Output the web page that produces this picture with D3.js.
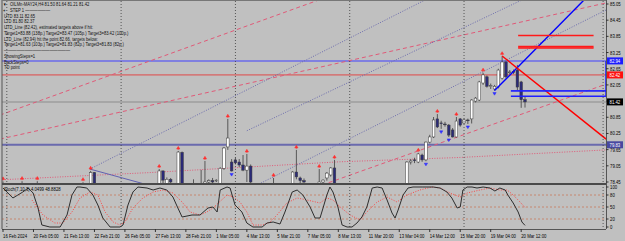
<!DOCTYPE html>
<html><head><meta charset="utf-8">
<script src="https://cdn.jsdelivr.net/npm/d3@7/dist/d3.min.js"></script>
<style>
html,body{margin:0;padding:0;background:#c0c0c0;}
svg{display:block;font-family:"Liberation Sans",Arial,sans-serif;}
</style></head><body>
<svg id="chart" width="625" height="241"></svg>
<script>
// ---- data (bar index on x, price on y) ----
const timeLabels = ["16 Feb 2024","20 Feb 05:00","21 Feb 13:00","22 Feb 21:00","26 Feb 05:00","27 Feb 13:00",
  "28 Feb 21:00","1 Mar 05:00","4 Mar 13:00","5 Mar 21:00","7 Mar 05:00","8 Mar 13:00","11 Mar 20:00",
  "13 Mar 04:00","14 Mar 12:00","15 Mar 20:00","19 Mar 04:00","20 Mar 12:00"];
const priceTicks = [85.05, 84.45, 83.85, 83.25, 82.65, 82.05, 81.45, 80.85, 80.25, 79.65, 79.05, 78.45];
const stochTicks = [100, 80, 50, 20, 0];
const gridBars = [1, 31, 61, 91, 121, 157.5];

// [bar, open, high, low, close]
const candles = [
  [0,78.30,78.47,78.10,78.20],[5,78.30,78.48,78.10,78.25],[9,78.30,78.48,78.10,78.25],[21,78.20,78.44,78.00,78.30],
  [23,78.30,78.86,78.20,78.80],[24,78.80,78.82,78.20,78.30],[41,78.30,78.93,78.20,78.86],[42,78.86,78.88,78.40,78.52],
  [43,78.40,78.62,78.30,78.55],[44,78.55,78.60,78.35,78.45],[46,78.30,79.60,78.20,79.56],[47,79.55,79.58,78.20,78.30],
  [50,78.30,78.55,78.20,78.40],[52,78.30,78.90,78.20,78.40],[53,78.40,79.23,78.30,78.45],[54,78.45,78.55,78.30,78.50],
  [55,78.50,78.60,78.35,78.45],[56,78.52,78.55,78.45,78.52],[57,78.30,79.00,78.20,78.96],[58,78.96,79.75,78.90,79.71],
  [59,79.75,80.79,79.64,80.08],[60,79.19,79.30,78.84,78.86],[61,79.27,79.35,79.10,79.16],[62,79.19,79.30,79.00,79.08],
  [63,79.08,79.45,78.85,78.89],[64,78.89,79.49,78.45,79.04],[65,79.04,79.10,78.30,78.45],[71,78.30,78.60,78.20,78.40],
  [76,78.30,78.85,78.20,78.82],[77,78.82,79.64,78.55,78.64],[78,78.60,78.65,78.40,78.50],[79,78.50,78.58,78.35,78.45],
  [83,78.40,78.93,78.30,78.45],[84,78.45,78.55,78.40,78.52],[85,78.60,78.82,78.50,78.78],[86,78.71,79.00,78.65,78.97],
  [87,78.97,79.27,78.20,78.30],
  [106,78.40,79.22,78.30,79.19],[107,79.19,79.30,79.10,79.23],[108,79.27,79.35,79.15,79.25],[109,79.19,79.53,79.15,79.49],
  [110,79.45,79.50,79.20,79.27],[111,79.27,79.95,79.22,79.93],[112,79.93,80.20,79.88,80.12],[113,80.12,80.86,80.08,80.75],
  [114,80.79,80.97,80.45,80.49],[115,80.64,80.72,80.42,80.62],[116,80.60,80.68,80.50,80.58],[117,80.56,80.60,80.12,80.19],
  [118,80.38,80.45,80.10,80.12],[119,80.12,80.86,80.10,80.71],[120,80.79,80.82,80.50,80.56],[121,80.64,80.80,80.60,80.75],
  [122,80.75,80.80,80.60,80.73],[123,80.79,81.52,80.62,81.49],[124,81.45,81.60,81.40,81.56],[125,81.49,82.20,81.45,82.16],
  [126,82.12,82.50,82.05,82.42],[127,82.35,82.40,81.95,82.00],[128,82.00,82.10,81.90,82.02],[129,81.90,82.05,81.84,82.00],
  [130,81.97,82.65,81.92,82.60],[131,82.30,83.11,82.25,82.90],[132,82.90,82.95,82.30,82.35],[133,82.50,82.60,82.45,82.53],
  [134,82.55,82.62,82.45,82.53],[135,82.60,82.79,81.86,81.97],[136,82.16,82.20,81.20,81.50],[137,81.50,81.64,81.21,81.42]
];
const upFractals = [0,5,9,21,23,41,46,53,59,64,71,77,83,87,109,114,119,126,131];
const downFractals = [60,111,115,117,122,129];

// stochastic main / signal: [bar, value]
const stochK = [[0,97.5],[1.3,85],[2.6,72.5],[3.9,80],[5.2,87.5],[6.6,97.5],[7.9,85],[9.2,47.5],[10.2,5],[12.3,0],[15,0],
  [16.8,30],[18.1,80],[19.4,100],[20.2,100],[22,97.5],[23.6,80],[24.9,55],[26.2,22.5],[28.1,0],[30.7,0],[31.5,5],[32.8,55],
  [34.1,87.5],[35.4,100],[37.8,97.5],[39.4,92.5],[41.2,97.5],[43,92.5],[44.6,75],[45.9,47.5],[47,25],[49.6,30],[51.7,30],
  [53.8,47.5],[55.1,50],[56.2,37.5],[57,92.5],[58.8,100],[59.6,97.5],[60.9,55],[62.7,37.5],[64,10],[65.6,0],[68,0],
  [69.3,10],[70.9,12.5],[72.7,7.5],[74,37.5],[75.9,87.5],[77.2,92.5],[78.7,80],[80.6,50],[81.9,22.5],[83.2,22.5],
  [84,47.5],[85,80],[85.8,100],[86.6,87.5],[87.9,50],[89,5],[90.3,0],[91.6,0],[92.9,10],[94.2,25],[95.5,50],[96.9,97.5],
  [98.2,100],[99.5,97.5],[100.8,67.5],[102.1,35],[102.9,22.5],[103.7,42.5],[105,80],[106.3,97.5],[107.6,100],[110.2,100],
  [112.9,100],[114.7,97.5],[116.5,87.5],[117.8,72.5],[119.2,47.5],[120,50],[120.7,92.5],[121.8,100],[123.1,100],
  [124.4,97.5],[126,100],[127.8,97.5],[129.1,90],[130.4,97.5],[131.8,92.5],[132.5,80],[133.9,60],[135.2,37.5],
  [136.2,12.5],[137,4.05]];
const stochD = [[7.6,67.5],[10.5,30],[13.6,10],[15.7,10],[18.1,37.5],[20.2,72.5],[22.8,87.5],[24.9,80],[26.8,37.5],
  [28.9,12.5],[30.7,5],[32,12.5],[34.1,47.5],[36.7,72.5],[39.4,87.5],[42,92.5],[44.6,85],[47,62.5],[49.1,37.5],[51.7,30],
  [53.5,37.5],[55.1,47.5],[58.8,80],[60.4,75],[62.2,62.5],[64,37.5],[65.6,5],[68.2,5],[70.1,12.5],[71.9,30],[74.5,60],
  [77.2,72.5],[79.8,67.5],[83.2,60],[85,72.5],[86.6,67.5],[88.5,50],[91.1,30],[93.7,17.5],[95.5,37.5],[98.2,62.5],
  [100.8,75],[103.4,62.5],[106,80],[109.4,92.5],[112.6,100],[114.7,97.5],[117.3,85],[120,75],[121.8,85],[125.2,92.5],
  [127.8,97.5],[130.4,92.5],[132.3,92.5],[133.9,80],[135.7,62.5],[137,48.88]];

// lines: [[bar, price],[bar, price]]
const pinkDashed = [[[-0.8,80.93],[82.9,85.2]], [[-0.8,80.04],[158.3,85.09]], [[82,78.25],[158.3,82.08]]];
const maLine = [[-0.8,78.53],[38.6,78.80],[88.5,79.20],[120,79.36],[158.3,79.64]];
const purpleDotted = [[[22.8,78.93],[110.8,85.2]], [[67.7,78.41],[158.3,84.83]], [[64,80.35],[136.2,85.2]]];
const slateDown = [[22.8,78.93],[37,78.38]];
const blueTrend = [[129,81.84],[152.5,85.2]];
const redTrend = [[131,83.12],[158.3,80.04]];
const redTargets = [83.88, 83.47, 83.42];
const blueTargets = [81.83, 81.83, 81.63];
const levels = [
  {p: 82.94, color: "#8080e0", w: 2, box: "#1c1cff"},
  {p: 82.42, color: "#e04848", w: 1, box: "#ff1010"},
  {p: 81.42, color: "#a6a6a6", w: 2, box: "#000000"},
  {p: 79.83, color: "#6a6aae", w: 2, box: "#4848a0"}
];
const infoLines = ["OILMn-MAY24,H4  81.50 81.64 81.21 81.42", "STEP 1  ——————", "UTD 83.11  82.65", "LTD  81.80  82.37",
  "UTD_Line (82.42), estimated targets above if hit:",
  "Target1=83.88 (138p.) Target2=83.47 (105p.) Target3=83.42 (100p.)",
  "LTD_Line (82.94) hit the point 82.66, targets below:",
  "Target1=81.63 (103p.) Target2=81.83 (82p.) Target3=81.83 (82p.)",
  "————————————————", "ShowingSteps=1", "BackSteps=0", "TD point"];

// ---- layout ----
const svg = d3.select("#chart");
const left = 2, right = 606, mainTop = 1, mainBot = 183, subTop = 185, subBot = 229;
const x = d3.scaleLinear().domain([0, 137]).range([3, 525]);
const y = d3.scaleLinear().domain([78.45, 85.05]).range([182, 4]);
const ys = d3.scaleLinear().domain([0, 100]).range([227, 187]);
const SX = 0.78; // text in the screenshot is horizontally narrow

function txt(g, tx, ty, s, size, fill) {
  return g.append("text").attr("transform", `translate(${tx},${ty}) scale(${SX},1)`)
    .attr("font-size", size || 5.5).attr("fill", fill || "#000").text(s);
}

svg.append("rect").attr("width", 625).attr("height", 241).attr("fill", "#c0c0c0");
const defs = svg.append("defs");
defs.append("clipPath").attr("id", "cm").append("rect").attr("x", left).attr("y", mainTop).attr("width", right - left).attr("height", mainBot - mainTop);
defs.append("clipPath").attr("id", "cs").append("rect").attr("x", left).attr("y", subTop).attr("width", right - left).attr("height", subBot - subTop);

const main = svg.append("g").attr("clip-path", "url(#cm)");
const sub = svg.append("g").attr("clip-path", "url(#cs)");

// grid
gridBars.forEach(b => {
  svg.append("line").attr("x1", x(b)).attr("x2", x(b)).attr("y1", mainTop).attr("y2", subBot)
    .attr("stroke", "#3a3a3a").attr("stroke-width", 0.8).attr("stroke-dasharray", "1,2");
});

// full-width levels
levels.forEach(l => {
  main.append("line").attr("x1", left).attr("x2", right).attr("y1", y(l.p)).attr("y2", y(l.p))
    .attr("stroke", l.color).attr("stroke-width", l.w);
});

const seg = (pts, color, w, dash) => main.append("path").attr("d", d3.line().x(d => x(d[0])).y(d => y(d[1]))(pts))
  .attr("fill", "none").attr("stroke", color).attr("stroke-width", w).attr("stroke-dasharray", dash || null);

pinkDashed.forEach(p => seg(p, "#e05a78", 1, "4,3"));
seg(maLine, "#e05a78", 1, "1,1.5");
purpleDotted.forEach(p => seg(p, "#6c6cae", 1, "1,1.5"));
seg(slateDown, "#6060b0", 1);

// candles
candles.forEach(([b, o, h, l, c]) => {
  const cx = x(b), up = c >= o;
  main.append("line").attr("x1", cx).attr("x2", cx).attr("y1", y(h)).attr("y2", y(l)).attr("stroke", "#3c3c3c").attr("stroke-width", 0.8);
  const top = y(Math.max(o, c)), bh = Math.max(0.8, Math.abs(y(o) - y(c)));
  main.append("rect").attr("x", cx - 1.3).attr("y", top).attr("width", 2.6).attr("height", bh)
    .attr("fill", up ? "#ffffff" : "#2a2a78").attr("stroke", "#3c3c3c").attr("stroke-width", 0.5);
});
upFractals.forEach(b => {
  const c = candles.find(d => d[0] === b), cx = x(b), cy = y(c[2]) - 2;
  main.append("path").attr("d", `M${cx - 1.6},${cy} L${cx},${cy - 2.6} L${cx + 1.6},${cy} Z M${cx},${cy} V${cy + 1}`)
    .attr("fill", "#ff3030").attr("stroke", "#ff3030").attr("stroke-width", 0.6);
});
downFractals.forEach(b => {
  const c = candles.find(d => d[0] === b), cx = x(b), cy = y(c[3]) + 2;
  main.append("path").attr("d", `M${cx - 1.6},${cy} L${cx},${cy + 2.6} L${cx + 1.6},${cy} Z`)
    .attr("fill", "#3030ff").attr("stroke", "#3030ff").attr("stroke-width", 0.6);
});

// trend lines / targets
seg(blueTrend, "#0000ff", 1.4);
seg(redTrend, "#ff0000", 1.4);
redTargets.forEach(p => seg([[135.2, p], [155, p]], "#ff1a1a", 1.6));
blueTargets.forEach(p => seg([[133.3, p], [158.3, p]], "#2020ff", 1.3));
svg.append("line").attr("x1", right).attr("x2", right).attr("y1", y(82.94)).attr("y2", y(81.63)).attr("stroke", "#1c1cff").attr("stroke-width", 1.5);

// separators / borders
svg.append("line").attr("x1", left).attr("x2", left).attr("y1", 0).attr("y2", subBot).attr("stroke", "#555").attr("stroke-width", 1);
svg.append("line").attr("x1", right + 0.5).attr("x2", right + 0.5).attr("y1", 0).attr("y2", subBot).attr("stroke", "#555").attr("stroke-width", 1);
svg.append("line").attr("x1", left).attr("x2", right).attr("y1", 0.5).attr("y2", 0.5).attr("stroke", "#777").attr("stroke-width", 1);
svg.append("line").attr("x1", left).attr("x2", right).attr("y1", 184).attr("y2", 184).attr("stroke", "#4a4a4a").attr("stroke-width", 2.2);
svg.append("line").attr("x1", left).attr("x2", right).attr("y1", subBot + 0.5).attr("y2", subBot + 0.5).attr("stroke", "#555").attr("stroke-width", 1);

// stochastic
[80, 50, 20].forEach(v => sub.append("line").attr("x1", left).attr("x2", right).attr("y1", ys(v)).attr("y2", ys(v))
  .attr("stroke", "#c87a5a").attr("stroke-width", 0.8).attr("stroke-dasharray", "2,2"));
sub.append("path").attr("d", d3.line().x(d => x(d[0])).y(d => ys(d[1]))(stochD))
  .attr("fill", "none").attr("stroke", "#ff3c3c").attr("stroke-width", 0.9).attr("stroke-dasharray", "1,1.5");
sub.append("path").attr("d", d3.line().x(d => x(d[0])).y(d => ys(d[1]))(stochK))
  .attr("fill", "none").attr("stroke", "#2e2e2e").attr("stroke-width", 1);
txt(svg, 4, 191, "Stoch(7,10,3) 4.0499 48.8828");

// price axis
priceTicks.forEach(p => {
  svg.append("line").attr("x1", right).attr("x2", right + 2.5).attr("y1", y(p)).attr("y2", y(p)).attr("stroke", "#333");
  txt(svg, 610, y(p) + 2, p.toFixed(2));
});
levels.forEach(l => {
  svg.append("rect").attr("x", 607).attr("y", y(l.p) - 3.5).attr("width", 16).attr("height", 7).attr("fill", l.box);
  txt(svg, 609.5, y(l.p) + 2, l.p.toFixed(2), 5.5, "#fff");
});
stochTicks.forEach(v => {
  svg.append("line").attr("x1", right).attr("x2", right + 2.5).attr("y1", ys(v)).attr("y2", ys(v)).attr("stroke", "#333");
  txt(svg, 610, ys(v) + 2, v);
});

// time axis
timeLabels.forEach((t, i) => {
  const tx = x(i * 8);
  svg.append("line").attr("x1", tx).attr("x2", tx).attr("y1", subBot).attr("y2", subBot + 3).attr("stroke", "#333");
  txt(svg, tx, 238, t);
});

// info text
infoLines.forEach((t, i) => txt(svg, i < 2 ? 10 : 4, 6 + i * 5.75, t, 5.3, "#111"));
txt(svg, 3, 6, "▼", 4.5);
txt(svg, 3, 11.75, "+", 5.5);
</script>
</body></html>
